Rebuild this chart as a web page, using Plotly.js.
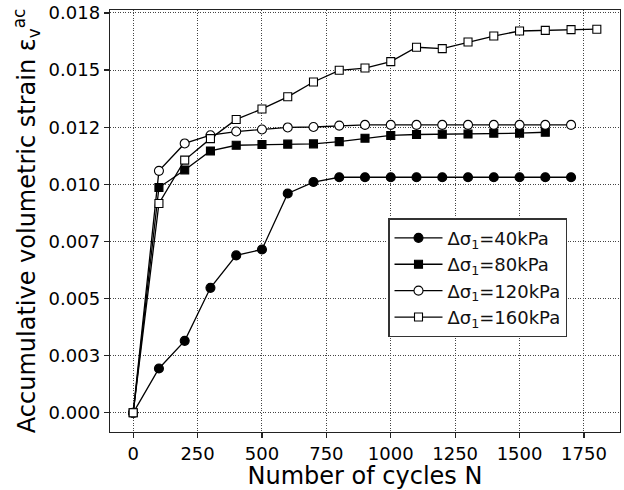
<!DOCTYPE html>
<html>
<head>
<meta charset="utf-8">
<script src="https://cdn.plot.ly/plotly-3.0.1.min.js"></script>
<style>html,body{margin:0;padding:0;background:#fff;}#chart{width:624px;height:490px;}</style>
</head>
<body>
<div id="chart"></div>
<script>
const cycles = [0, 100, 200, 300, 400, 500, 600, 700, 800, 900, 1000, 1100, 1200, 1300, 1400, 1500, 1600, 1700, 1800];

const strain40 = [0, 0.00194, 0.00315, 0.00547, 0.00689, 0.00715, 0.0096, 0.0101, 0.01031, 0.01031, 0.01031, 0.01031, 0.01031, 0.01031, 0.01031, 0.01031, 0.01031, 0.01031];
const strain80 = [0, 0.00986, 0.01063, 0.01146, 0.01171, 0.01174, 0.01176, 0.01177, 0.01187, 0.01202, 0.01214, 0.01218, 0.01219, 0.0122, 0.01224, 0.01224, 0.01228];
const strain120 = [0, 0.01059, 0.01179, 0.01215, 0.01231, 0.0124, 0.01249, 0.01251, 0.01257, 0.0126, 0.0126, 0.0126, 0.0126, 0.0126, 0.0126, 0.0126, 0.0126, 0.0126];
const strain160 = [0, 0.00916, 0.01106, 0.012, 0.01284, 0.0133, 0.01383, 0.01448, 0.01499, 0.01509, 0.01537, 0.016, 0.01594, 0.01623, 0.01649, 0.01671, 0.01674, 0.01677, 0.01679];

const seriesNames = ["Δσ<sub>1</sub>=40kPa", "Δσ<sub>1</sub>=80kPa", "Δσ<sub>1</sub>=120kPa", "Δσ<sub>1</sub>=160kPa"];

const xTickVals = [0, 250, 500, 750, 1000, 1250, 1500, 1750];
const xTickText = ["0", "250", "500", "750", "1000", "1250", "1500", "1750"];
const yTickVals = [0, 0.0025, 0.005, 0.0075, 0.01, 0.0125, 0.015, 0.0175];
const yTickText = ["0.000", "0.003", "0.005", "0.007", "0.010", "0.012", "0.015", "0.018"];

const F = "DejaVu Sans, sans-serif";

function mk(y, name, symbol, fill, size) {
  return {
    x: cycles.slice(0, y.length), y: y, name: name,
    type: "scatter", mode: "lines+markers",
    line: {color: "#000", width: 1.3},
    marker: {symbol: symbol, size: size, color: fill, line: {color: "#000", width: 1.1}}
  };
}

const traces = [
  mk(strain40, seriesNames[0], "circle", "#000", 9),
  mk(strain80, seriesNames[1], "square", "#000", 8),
  mk(strain120, seriesNames[2], "circle", "#fff", 9),
  mk(strain160, seriesNames[3], "square", "#fff", 8)
];

const layout = {
  width: 624, height: 490,
  margin: {l: 110, r: 4, t: 10, b: 58},
  paper_bgcolor: "#fff", plot_bgcolor: "#fff",
  font: {family: F, color: "#000", size: 18},
  showlegend: true,
  legend: {
    x: 0.5457, y: 0.506, xanchor: "left", yanchor: "top",
    bgcolor: "#fff", bordercolor: "#333", borderwidth: 1.2,
    itemwidth: 48,
    font: {family: F, size: 18, color: "#111"}
  },
  xaxis: {
    range: [-90, 1890], tickmode: "array", tickvals: xTickVals, ticktext: xTickText,
    showgrid: true, gridcolor: "#444", griddash: "1px,1.5px", gridwidth: 1,
    zeroline: false, showline: true, linecolor: "#222", linewidth: 1.3, mirror: true,
    ticks: "outside", ticklen: 5, tickcolor: "#222", tickwidth: 1.3,
    tickfont: {family: F, size: 18, color: "#000"},
    title: {text: "Number of cycles N", font: {family: F, size: 24, color: "#000"}, standoff: 8}
  },
  yaxis: {
    range: [-0.00084, 0.01763], tickmode: "array", tickvals: yTickVals, ticktext: yTickText,
    showgrid: true, gridcolor: "#444", griddash: "1px,1.5px", gridwidth: 1,
    zeroline: false, showline: true, linecolor: "#222", linewidth: 1.3, mirror: true,
    ticks: "outside", ticklen: 5, tickcolor: "#222", tickwidth: 1.3,
    tickfont: {family: F, size: 18, color: "#000"},
    title: {text: "Accumulative volumetric strain ε<sub>v</sub><sup>ac</sup>", font: {family: F, size: 24, color: "#000"}, standoff: 6}
  }
};

Plotly.newPlot("chart", traces, layout, {displayModeBar: false, staticPlot: true});
</script>
</body>
</html>
